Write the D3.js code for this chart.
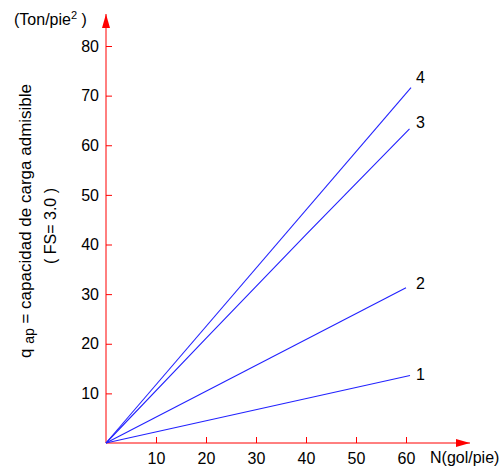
<!DOCTYPE html>
<html>
<head>
<meta charset="utf-8">
<script src="https://cdn.jsdelivr.net/npm/d3@7"></script>
<style>
  body { margin: 0; background: #fff; }
  svg { display: block; }
  text { font-family: "Liberation Sans", Arial, sans-serif; fill: #000; }
</style>
</head>
<body>
<svg id="chart"></svg>
<script>
var width = 503;
var height = 466;

// values
var xTicks = [10, 20, 30, 40, 50, 60];
var yTicks = [10, 20, 30, 40, 50, 60, 70, 80];
var seriesNames = ["1", "2", "3", "4"];
var curve1 = [[0, 0], [60.8, 13.6]];
var curve2 = [[0, 0], [60, 31.3]];
var curve3 = [[0, 0], [20, 21.1], [40, 42], [60.7, 63.3]];
var curve4 = [[0, 0], [61, 71.6]];
var curves = [curve1, curve2, curve3, curve4];

var svg = d3.select("#chart")
  .attr("width", width)
  .attr("height", height);

var x = d3.scaleLinear().domain([0, 60]).range([106, 406]);
var y = d3.scaleLinear().domain([0, 80]).range([443, 46]);

var red = "#ff0000";

// arrow heads
var defs = svg.append("defs");
defs.append("marker")
  .attr("id", "arrow")
  .attr("viewBox", "0 0 14 8")
  .attr("refX", 14).attr("refY", 4)
  .attr("markerWidth", 14).attr("markerHeight", 8)
  .attr("markerUnits", "userSpaceOnUse")
  .attr("orient", "auto")
  .append("path")
  .attr("d", "M0,0L14,4L0,8Z")
  .attr("fill", red);

// axes lines
svg.append("line")
  .attr("x1", x(0)).attr("y1", y(0))
  .attr("x2", 470).attr("y2", y(0))
  .attr("stroke", red).attr("stroke-width", 1)
  .attr("marker-end", "url(#arrow)");
svg.append("line")
  .attr("x1", x(0)).attr("y1", y(0))
  .attr("x2", x(0)).attr("y2", 14)
  .attr("stroke", red).attr("stroke-width", 1)
  .attr("marker-end", "url(#arrow)");

var xAxis = svg.append("g")
  .attr("transform", "translate(0," + y(0) + ")")
  .call(d3.axisBottom(x).tickValues(xTicks).tickSizeInner(-6).tickSizeOuter(0).tickPadding(10));
var yAxis = svg.append("g")
  .attr("transform", "translate(" + x(0) + ",0)")
  .call(d3.axisLeft(y).tickValues(yTicks).tickSizeInner(-6).tickSizeOuter(0).tickPadding(7));

[xAxis, yAxis].forEach(function(g) {
  g.select(".domain").remove();
  g.selectAll(".tick line").attr("stroke", red);
  g.selectAll(".tick text")
    .attr("fill", "#000")
    .style("font-family", "Liberation Sans, Arial, sans-serif")
    .style("font-size", "16px");
});

// curves
var line = d3.line()
  .x(function(d) { return x(d[0]); })
  .y(function(d) { return y(d[1]); });

svg.append("g")
  .selectAll("path")
  .data(curves)
  .enter().append("path")
  .attr("d", line)
  .attr("fill", "none")
  .attr("stroke", "#2222ff")
  .attr("stroke-width", 1.1);

// curve labels, nudged next to the end of each line
var labelDy = [4, 1, -1, -5];
svg.append("g")
  .selectAll("text")
  .data(curves)
  .enter().append("text")
  .attr("x", 416)
  .attr("y", function(d, i) { return y(d[d.length - 1][1]) + labelDy[i]; })
  .style("font-size", "16px")
  .text(function(d, i) { return seriesNames[i]; });

// axis titles
svg.append("text")
  .attr("x", 430)
  .attr("y", 463)
  .style("font-size", "16px")
  .text("N(gol/pie)");

var unit = svg.append("text")
  .attr("x", 14)
  .attr("y", 25)
  .style("font-size", "16px");
unit.append("tspan").text("(Ton/pie");
unit.append("tspan").attr("dy", -6).style("font-size", "11px").text("2");
unit.append("tspan").attr("dy", 6).text(" )");

var ytitle = svg.append("text")
  .attr("transform", "translate(31,221) rotate(-90)")
  .attr("text-anchor", "middle")
  .style("font-size", "17px");
ytitle.append("tspan").text("q ");
ytitle.append("tspan").attr("dy", 3).style("font-size", "14px").text("ap");
ytitle.append("tspan").attr("dy", -3).text(" = capacidad de carga admisible");

svg.append("text")
  .attr("transform", "translate(56,226) rotate(-90)")
  .attr("text-anchor", "middle")
  .style("font-size", "16px")
  .text("( FS= 3.0 )");
</script>
</body>
</html>
